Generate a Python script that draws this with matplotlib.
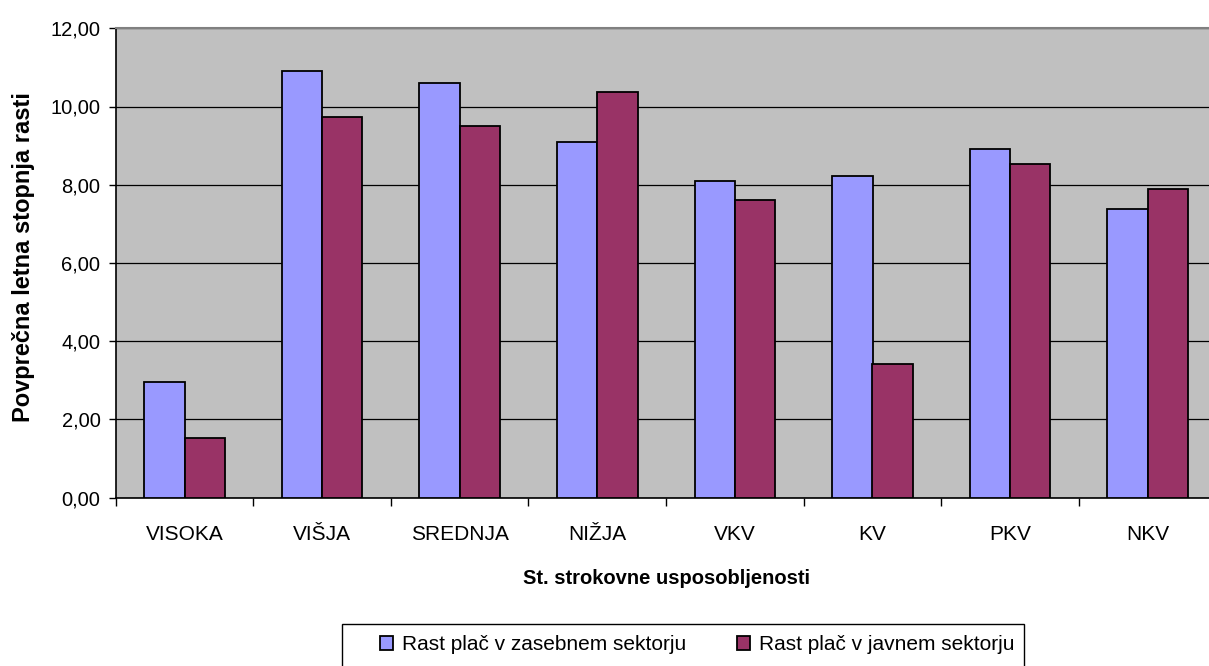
import matplotlib
matplotlib.use('Agg')
import matplotlib.pyplot as plt
from matplotlib import font_manager
import numpy as np
from matplotlib.patches import Rectangle

plt.rcParams['font.family'] = ['Liberation Sans', 'DejaVu Sans']

kategorije = ['VISOKA', 'VIŠJA', 'SREDNJA', 'NIŽJA', 'VKV', 'KV', 'PKV', 'NKV']
zasebni = [2.96, 10.92, 10.61, 9.08, 8.10, 8.22, 8.92, 7.39]
javni = [1.52, 9.74, 9.49, 10.36, 7.60, 3.42, 8.52, 7.90]
y_ticks = [0, 2, 4, 6, 8, 10, 12]
legenda = ['Rast plač v zasebnem sektorju', 'Rast plač v javnem sektorju']

W, H = 1209, 666
fig = plt.figure(figsize=(W / 100, H / 100), dpi=100)
# plot area runs past the right edge of the picture, like the cropped original
left, right, top, bottom = 115.7, 1216.5, 28.3, 497.5
ax = fig.add_axes([left / W, 1 - bottom / H, (right - left) / W, (bottom - top) / H])
ax.set_facecolor('#C0C0C0')

x = np.arange(len(kategorije))
w = 0.293
b1 = ax.bar(x - w / 2, zasebni, w, color='#9999FF', edgecolor='black', linewidth=1.3, zorder=3)
b2 = ax.bar(x + w / 2, javni, w, color='#993366', edgecolor='black', linewidth=1.3, zorder=3)

ax.set_xlim(-0.5, len(kategorije) - 0.5)
ax.set_ylim(0, 12)
ax.set_yticks(y_ticks)
ax.set_yticklabels([('%.2f' % v).replace('.', ',') for v in y_ticks], fontsize=14.5)
ax.yaxis.grid(True, color='black', linewidth=0.9, zorder=1)
ax.set_axisbelow(True)

ax.set_xticks(x)
ax.set_xticklabels(kategorije, fontsize=15)
ax.set_xticks(np.arange(len(kategorije) + 1) - 0.5, minor=True)
ax.tick_params(axis='x', which='major', length=0, pad=20)
ax.tick_params(axis='x', which='minor', length=6, width=1, direction='out')
ax.tick_params(axis='y', length=5, width=1, direction='out', pad=6)

ax.spines['top'].set_color('#808080')
ax.spines['top'].set_linewidth(1.5)
ax.spines['right'].set_visible(False)
ax.spines['left'].set_linewidth(1.2)
ax.spines['bottom'].set_linewidth(1.2)

ax.set_xlabel('St. strokovne usposobljenosti', fontsize=14.5, fontweight='bold', va='center')
ax.xaxis.set_label_coords(0.5, (bottom - 578) / (bottom - top))
ax.set_ylabel('Povprečna letna stopnja rasti', fontsize=17, fontweight='bold', va='center')
ax.yaxis.set_label_coords((23 - left) / (right - left), (bottom - 257.5) / (bottom - top))

# legend text in the original is condensed; use the narrow face if it is there
imena = {f.name for f in font_manager.fontManager.ttflist}
if 'Liberation Sans Narrow' in imena:
    leg_font = {'family': 'Liberation Sans Narrow', 'size': 18}
else:
    leg_font = {'family': 'Liberation Sans', 'size': 15}
fs = leg_font['size'] * 100 / 72

# legend frame, its bottom is cut off by the picture edge
fig.patches.append(Rectangle((342 / W, -0.05), (1024 - 342) / W, 0.05 + 1 - 624 / H,
                             transform=fig.transFigure, facecolor='white',
                             edgecolor='black', linewidth=1))
fig.legend([b1, b2], legenda,
           loc='center left', bbox_to_anchor=(370 / W, 1 - 645 / H), ncol=2,
           frameon=False, prop=leg_font, borderpad=0, handlelength=13 / fs,
           handleheight=13 / fs, handletextpad=9 / fs, columnspacing=50 / fs)

plt.savefig('out.png', dpi=100)
